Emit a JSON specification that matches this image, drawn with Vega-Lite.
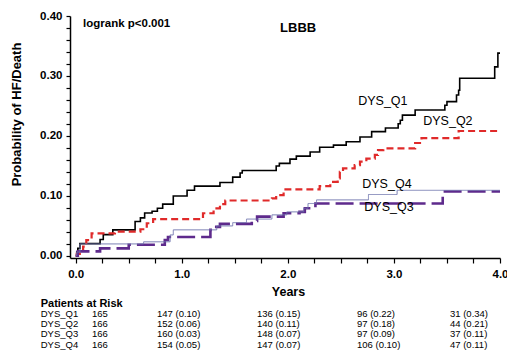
{
  "$schema": "https://vega.github.io/schema/vega-lite/v6.json",
  "autosize": {"type": "none"},
  "padding": {"left": 70, "top": 16, "right": 7, "bottom": 94},
  "width": 430,
  "height": 242,
  "background": "white",
  "config": {"view": {"stroke": null}, "font": "Liberation Sans"},
  "datasets": {
    "km": [
      {"g":"DYS_Q1","t":0,"p":0},{"g":"DYS_Q1","t":0.01,"p":0.006},{"g":"DYS_Q1","t":0.02,"p":0.012},{"g":"DYS_Q1","t":0.04,"p":0.02},{"g":"DYS_Q1","t":0.23,"p":0.027},{"g":"DYS_Q1","t":0.26,"p":0.035},{"g":"DYS_Q1","t":0.35,"p":0.043},{"g":"DYS_Q1","t":0.56,"p":0.057},{"g":"DYS_Q1","t":0.61,"p":0.063},{"g":"DYS_Q1","t":0.65,"p":0.071},{"g":"DYS_Q1","t":0.72,"p":0.074},{"g":"DYS_Q1","t":0.77,"p":0.079},{"g":"DYS_Q1","t":0.82,"p":0.086},{"g":"DYS_Q1","t":0.92,"p":0.0995},{"g":"DYS_Q1","t":1.05,"p":0.109},{"g":"DYS_Q1","t":1.12,"p":0.116},{"g":"DYS_Q1","t":1.36,"p":0.122},{"g":"DYS_Q1","t":1.48,"p":0.131},{"g":"DYS_Q1","t":1.55,"p":0.138},{"g":"DYS_Q1","t":1.57,"p":0.142},{"g":"DYS_Q1","t":1.89,"p":0.1495},{"g":"DYS_Q1","t":1.92,"p":0.154},{"g":"DYS_Q1","t":2.02,"p":0.161},{"g":"DYS_Q1","t":2.08,"p":0.166},{"g":"DYS_Q1","t":2.21,"p":0.173},{"g":"DYS_Q1","t":2.30,"p":0.181},{"g":"DYS_Q1","t":2.43,"p":0.1845},{"g":"DYS_Q1","t":2.55,"p":0.19},{"g":"DYS_Q1","t":2.68,"p":0.198},{"g":"DYS_Q1","t":2.79,"p":0.207},{"g":"DYS_Q1","t":2.92,"p":0.213},{"g":"DYS_Q1","t":3.04,"p":0.22},{"g":"DYS_Q1","t":3.06,"p":0.226},{"g":"DYS_Q1","t":3.08,"p":0.2345},{"g":"DYS_Q1","t":3.20,"p":0.243},{"g":"DYS_Q1","t":3.48,"p":0.251},{"g":"DYS_Q1","t":3.50,"p":0.257},{"g":"DYS_Q1","t":3.59,"p":0.268},{"g":"DYS_Q1","t":3.61,"p":0.276},{"g":"DYS_Q1","t":3.62,"p":0.296},{"g":"DYS_Q1","t":3.95,"p":0.315},{"g":"DYS_Q1","t":3.98,"p":0.338},{"g":"DYS_Q1","t":4.0,"p":0.338},
      {"g":"DYS_Q2","t":0,"p":0},{"g":"DYS_Q2","t":0.01,"p":0.003},{"g":"DYS_Q2","t":0.07,"p":0.015},{"g":"DYS_Q2","t":0.10,"p":0.026},{"g":"DYS_Q2","t":0.15,"p":0.037},{"g":"DYS_Q2","t":0.37,"p":0.040},{"g":"DYS_Q2","t":0.61,"p":0.044},{"g":"DYS_Q2","t":0.67,"p":0.054},{"g":"DYS_Q2","t":0.73,"p":0.061},{"g":"DYS_Q2","t":1.20,"p":0.0707},{"g":"DYS_Q2","t":1.30,"p":0.079},{"g":"DYS_Q2","t":1.36,"p":0.086},{"g":"DYS_Q2","t":1.41,"p":0.092},{"g":"DYS_Q2","t":1.85,"p":0.0957},{"g":"DYS_Q2","t":1.89,"p":0.101},{"g":"DYS_Q2","t":1.96,"p":0.1107},{"g":"DYS_Q2","t":2.30,"p":0.116},{"g":"DYS_Q2","t":2.40,"p":0.123},{"g":"DYS_Q2","t":2.47,"p":0.129},{"g":"DYS_Q2","t":2.49,"p":0.14},{"g":"DYS_Q2","t":2.52,"p":0.1457},{"g":"DYS_Q2","t":2.63,"p":0.151},{"g":"DYS_Q2","t":2.68,"p":0.157},{"g":"DYS_Q2","t":2.74,"p":0.162},{"g":"DYS_Q2","t":2.82,"p":0.168},{"g":"DYS_Q2","t":2.85,"p":0.176},{"g":"DYS_Q2","t":2.90,"p":0.179},{"g":"DYS_Q2","t":3.20,"p":0.188},{"g":"DYS_Q2","t":3.26,"p":0.196},{"g":"DYS_Q2","t":3.61,"p":0.208},{"g":"DYS_Q2","t":4.0,"p":0.208},
      {"g":"DYS_Q3","t":0,"p":0},{"g":"DYS_Q3","t":0.02,"p":0.007},{"g":"DYS_Q3","t":0.23,"p":0.012},{"g":"DYS_Q3","t":0.50,"p":0.018},{"g":"DYS_Q3","t":0.84,"p":0.026},{"g":"DYS_Q3","t":0.87,"p":0.031},{"g":"DYS_Q3","t":1.27,"p":0.043},{"g":"DYS_Q3","t":1.31,"p":0.048},{"g":"DYS_Q3","t":1.36,"p":0.053},{"g":"DYS_Q3","t":1.66,"p":0.058},{"g":"DYS_Q3","t":1.71,"p":0.065},{"g":"DYS_Q3","t":1.96,"p":0.0707},{"g":"DYS_Q3","t":2.11,"p":0.073},{"g":"DYS_Q3","t":2.16,"p":0.079},{"g":"DYS_Q3","t":2.26,"p":0.087},{"g":"DYS_Q3","t":3.46,"p":0.107},{"g":"DYS_Q3","t":4.0,"p":0.107},
      {"g":"DYS_Q4","t":0,"p":0},{"g":"DYS_Q4","t":0.01,"p":0.006},{"g":"DYS_Q4","t":0.04,"p":0.0195},{"g":"DYS_Q4","t":0.64,"p":0.023},{"g":"DYS_Q4","t":0.89,"p":0.0345},{"g":"DYS_Q4","t":0.92,"p":0.043},{"g":"DYS_Q4","t":1.33,"p":0.0495},{"g":"DYS_Q4","t":1.48,"p":0.055},{"g":"DYS_Q4","t":1.61,"p":0.061},{"g":"DYS_Q4","t":1.85,"p":0.068},{"g":"DYS_Q4","t":1.99,"p":0.073},{"g":"DYS_Q4","t":2.15,"p":0.079},{"g":"DYS_Q4","t":2.19,"p":0.087},{"g":"DYS_Q4","t":2.27,"p":0.093},{"g":"DYS_Q4","t":2.76,"p":0.102},{"g":"DYS_Q4","t":3.03,"p":0.109},{"g":"DYS_Q4","t":4.0,"p":0.109}
    ],
    "curveLabels": [
      {"s":"DYS_Q1","t":2.896,"p":0.258},
      {"s":"DYS_Q2","t":3.509,"p":0.2245},
      {"s":"DYS_Q4","t":2.934,"p":0.1195},
      {"s":"DYS_Q3","t":2.953,"p":0.0812}
    ],
    "risk": [
      {"r":1,"c":0,"s":"DYS_Q1"},{"r":1,"c":1,"s":"165"},{"r":1,"c":2,"s":"147 (0.10)"},{"r":1,"c":3,"s":"136 (0.15)"},{"r":1,"c":4,"s":"96 (0.22)"},{"r":1,"c":5,"s":"31 (0.34)"},
      {"r":2,"c":0,"s":"DYS_Q2"},{"r":2,"c":1,"s":"166"},{"r":2,"c":2,"s":"152 (0.06)"},{"r":2,"c":3,"s":"140 (0.11)"},{"r":2,"c":4,"s":"97 (0.18)"},{"r":2,"c":5,"s":"44 (0.21)"},
      {"r":3,"c":0,"s":"DYS_Q3"},{"r":3,"c":1,"s":"166"},{"r":3,"c":2,"s":"160 (0.03)"},{"r":3,"c":3,"s":"148 (0.07)"},{"r":3,"c":4,"s":"97 (0.09)"},{"r":3,"c":5,"s":"37 (0.11)"},
      {"r":4,"c":0,"s":"DYS_Q4"},{"r":4,"c":1,"s":"166"},{"r":4,"c":2,"s":"154 (0.05)"},{"r":4,"c":3,"s":"147 (0.07)"},{"r":4,"c":4,"s":"106 (0.10)"},{"r":4,"c":5,"s":"47 (0.11)"}
    ]
  },
  "resolve": {"scale": {"x": "independent", "y": "independent"}, "axis": {"x": "independent", "y": "independent"}},
  "layer": [
    {
      "data": {"name": "km"},
      "mark": {"type": "line", "interpolate": "step-after", "clip": false},
      "encoding": {
        "x": {
          "field": "t", "type": "quantitative",
          "scale": {"domain": [-0.0537, 4.0], "nice": false, "zero": false},
          "axis": {
            "orient": "bottom",
            "values": [0,0.25,0.5,0.75,1,1.25,1.5,1.75,2,2.25,2.5,2.75,3,3.25,3.5,3.75,4],
            "labelExpr": "datum.value % 1 === 0 ? format(datum.value, '.1f') : ''",
            "labelOverlap": false, "labelFlush": false,
            "grid": false, "tickSize": 5, "tickWidth": 1.2, "tickColor": "black",
            "domainColor": "black", "domainWidth": 1.5,
            "labelFont": "Liberation Sans", "labelFontWeight": "bold", "labelFontSize": 11.5, "labelColor": "black", "labelPadding": 5,
            "title": "Years", "titleFont": "Liberation Sans", "titleFontWeight": "bold", "titleFontSize": 12.5, "titleColor": "black", "titlePadding": 6, "titleX": 218
          }
        },
        "y": {
          "field": "p", "type": "quantitative",
          "scale": {"domain": [-0.004, 0.4], "nice": false, "zero": false},
          "axis": {
            "orient": "left",
            "values": [0,0.02,0.04,0.06,0.08,0.1,0.12,0.14,0.16,0.18,0.2,0.22,0.24,0.26,0.28,0.3,0.32,0.34,0.36,0.38,0.4],
            "labelExpr": "abs(datum.value * 10 - round(datum.value * 10)) < 0.000001 ? format(datum.value, '.2f') : ''",
            "labelOverlap": false, "labelFlush": false,
            "grid": false, "tickSize": 4, "tickWidth": 1.2, "tickColor": "black",
            "domainColor": "black", "domainWidth": 1.5,
            "labelFont": "Liberation Sans", "labelFontWeight": "bold", "labelFontSize": 11.5, "labelColor": "black", "labelPadding": 4,
            "title": "Probability of HF/Death", "titleFont": "Liberation Sans", "titleFontWeight": "bold", "titleFontSize": 13, "titleColor": "black",
            "titleX": -47, "titleY": 98, "titleBaseline": "bottom", "titleAngle": -90, "titleAlign": "center"
          }
        },
        "detail": {"field": "g"},
        "color": {"field": "g", "type": "nominal", "legend": null,
          "scale": {"domain": ["DYS_Q1","DYS_Q2","DYS_Q3","DYS_Q4"], "range": ["#000000","#e02a2a","#5e2a8c","#6d73ad"]}},
        "strokeWidth": {
          "condition": [
            {"test": "datum.g === 'DYS_Q4'", "value": 0.9},
            {"test": "datum.g === 'DYS_Q3'", "value": 2.6},
            {"test": "datum.g === 'DYS_Q2'", "value": 2.2}
          ],
          "value": 1.6
        },
        "strokeDash": {"field": "g", "type": "nominal", "legend": null,
          "scale": {"domain": ["DYS_Q1","DYS_Q2","DYS_Q3","DYS_Q4"], "range": [[1,0],[7,4],[18,6],[1,0]]}}
      }
    },
    {
      "data": {"name": "curveLabels"},
      "mark": {"type": "text", "font": "Liberation Sans", "fontSize": 12.5, "color": "black", "align": "center", "baseline": "middle"},
      "encoding": {
        "x": {"field": "t", "type": "quantitative", "scale": {"domain": [-0.0537, 4.0], "nice": false, "zero": false}, "axis": null},
        "y": {"field": "p", "type": "quantitative", "scale": {"domain": [-0.004, 0.4], "nice": false, "zero": false}, "axis": null},
        "text": {"field": "s"}
      }
    },
    {
      "data": {"values": [{"s": "logrank p<0.001", "t": 0.069, "p": 0.386}]},
      "mark": {"type": "text", "font": "Liberation Sans", "fontWeight": "bold", "fontSize": 11.5, "color": "black", "align": "left", "baseline": "middle"},
      "encoding": {
        "x": {"field": "t", "type": "quantitative", "scale": {"domain": [-0.0537, 4.0], "nice": false, "zero": false}, "axis": null},
        "y": {"field": "p", "type": "quantitative", "scale": {"domain": [-0.004, 0.4], "nice": false, "zero": false}, "axis": null},
        "text": {"field": "s"}
      }
    },
    {
      "data": {"values": [{"s": "LBBB", "t": 2.097, "p": 0.3795}]},
      "mark": {"type": "text", "font": "Liberation Sans", "fontWeight": "bold", "fontSize": 13, "color": "black", "align": "center", "baseline": "middle"},
      "encoding": {
        "x": {"field": "t", "type": "quantitative", "scale": {"domain": [-0.0537, 4.0], "nice": false, "zero": false}, "axis": null},
        "y": {"field": "p", "type": "quantitative", "scale": {"domain": [-0.004, 0.4], "nice": false, "zero": false}, "axis": null},
        "text": {"field": "s"}
      }
    },
    {
      "data": {"values": [{"s": "Patients at Risk", "r": 0, "c": 0}]},
      "mark": {"type": "text", "font": "Liberation Sans", "fontWeight": "bold", "fontSize": 11, "color": "black", "align": "left", "baseline": "middle"},
      "encoding": {
        "x": {"field": "c", "type": "quantitative", "scale": {"domain": [0,1,2,3,4,5], "range": [-29.3, 22, 87, 187, 287, 380], "nice": false, "zero": false}, "axis": null},
        "y": {"field": "r", "type": "quantitative", "scale": {"domain": [0, 4], "range": [287.5, 328.5], "nice": false, "zero": false}, "axis": null},
        "text": {"field": "s"}
      }
    },
    {
      "data": {"name": "risk"},
      "mark": {"type": "text", "font": "Liberation Sans", "fontSize": 9.5, "color": "black", "align": "left", "baseline": "middle"},
      "encoding": {
        "x": {"field": "c", "type": "quantitative", "scale": {"domain": [0,1,2,3,4,5], "range": [-29.3, 22, 87, 187, 287, 380], "nice": false, "zero": false}, "axis": null},
        "y": {"field": "r", "type": "quantitative", "scale": {"domain": [0, 4], "range": [287.5, 328.5], "nice": false, "zero": false}, "axis": null},
        "text": {"field": "s"}
      }
    }
  ]
}
